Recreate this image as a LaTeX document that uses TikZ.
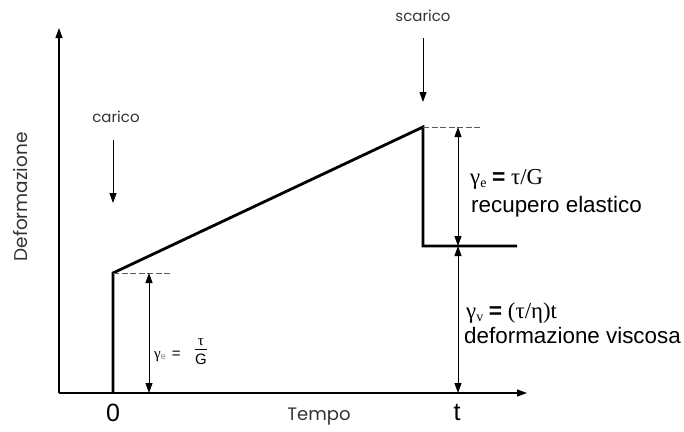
\documentclass[tikz,border=0pt]{standalone}
\usepackage{fontspec}
\setmainfont{Liberation Sans}
\newfontfamily\gothic{Poppins}
\newfontfamily\gr{Liberation Serif}
\usetikzlibrary{arrows.meta}
\tikzset{
  axis/.style={line width=1.1pt, -{Triangle[width=7pt,length=10pt]}},
  curve/.style={line width=2.8pt, line join=miter},
  guide/.style={line width=0.8pt, dash pattern=on 6pt off 2.5pt, gray!70!black},
  dim/.style={line width=0.9pt, {Triangle[width=7pt,length=10pt]}-{Triangle[width=7pt,length=10pt]}},
  load/.style={line width=0.9pt, -{Triangle[width=7pt,length=10pt]}},
  small/.style={font=\gothic\fontsize{15}{17}\selectfont, text=black!80, inner sep=0pt},
  big/.style={font=\fontsize{22.4}{26}\selectfont, inner sep=0pt},
  tick/.style={font=\fontsize{25}{27}\selectfont, inner sep=0pt}
}
\begin{document}
\begin{tikzpicture}[x=1pt,y=-1pt]
\useasboundingbox (0,0) rectangle (684,431);
% axes
\coordinate (O) at (59,393);
\coordinate (Ytop) at (59,28);
\coordinate (Xend) at (527,393);
\draw[axis] (O) -- (Ytop);
\draw[axis] (O) -- (Xend);
% curve
\coordinate (A) at (113,393);
\coordinate (B) at (113,273);
\coordinate (C) at (423,127);
\coordinate (D) at (423,246);
\coordinate (E) at (517,246);
\draw[curve] (A) -- (B) -- (C) -- (D) -- (E);
% guides
\coordinate (Bd) at (170,273);
\coordinate (Cd) at (482,127);
\draw[guide] (B) -- (Bd);
\draw[guide] (C) -- (Cd);
% dimension arrows
\coordinate (d1t) at (149,273);
\coordinate (d1b) at (149,393);
\draw[dim] (d1t) -- (d1b);
\coordinate (d2t) at (458,127);
\coordinate (d2m) at (458,246);
\coordinate (d2b) at (458,393);
\draw[dim] (d2t) -- (d2m);
\draw[dim] (d2m) -- (d2b);
% load arrows
\coordinate (c1) at (113,140);
\coordinate (c2) at (113,203);
\draw[load] (c1) -- (c2);
\coordinate (s1) at (423,38);
\coordinate (s2) at (423,102);
\draw[load] (s1) -- (s2);
% labels
\node[small, anchor=base] (carico) at (116,122) {carico};
\node[small, anchor=base] (scarico) at (423,21) {scarico};
\node[small, anchor=base, font=\gothic\fontsize{18}{20}\selectfont] (tempo) at (319,420) {Tempo};
\node[small, anchor=center, rotate=90, font=\gothic\fontsize{18.5}{20}\selectfont] (deform) at (21,197) {Deformazione};
\node[tick, anchor=base] (zero) at (113,421) {0};
\node[tick, anchor=base] (tt) at (457,420) {t};
% small gamma label
\node[anchor=base west, inner sep=0pt, font=\fontsize{15}{17}\selectfont] (ge0) at (154,358)
  {{\gr γ}{\fontsize{9}{10}\selectfont\color{gray}\raisebox{-1.5pt}{e}}\hspace{6pt}=};
\node[inner sep=0pt, font=\fontsize{15}{16}\selectfont] (frac) at (201,352)
  {\begin{tabular}{@{}c@{}}{\gr τ}\\[-1pt]\hline\rule{0pt}{15pt}G\end{tabular}};
% right labels
\node[big, anchor=base west, font=\gr\fontsize{22.8}{26}\selectfont] (ge) at (470,184)
  {γ\raisebox{-3pt}{\fontsize{14}{15}\selectfont e} {\rmfamily\bfseries =} τ/G};
\node[big, anchor=base west] (rec) at (471,212) {recupero elastico};
\node[big, anchor=base west, font=\gr\fontsize{22.8}{26}\selectfont] (gv) at (466,318)
  {γ\raisebox{-3pt}{\fontsize{14}{15}\selectfont v} {\rmfamily\bfseries =} (τ/η)t};
\node[big, anchor=base west] (visc) at (464,343) {deformazione viscosa};
\end{tikzpicture}
\end{document}
